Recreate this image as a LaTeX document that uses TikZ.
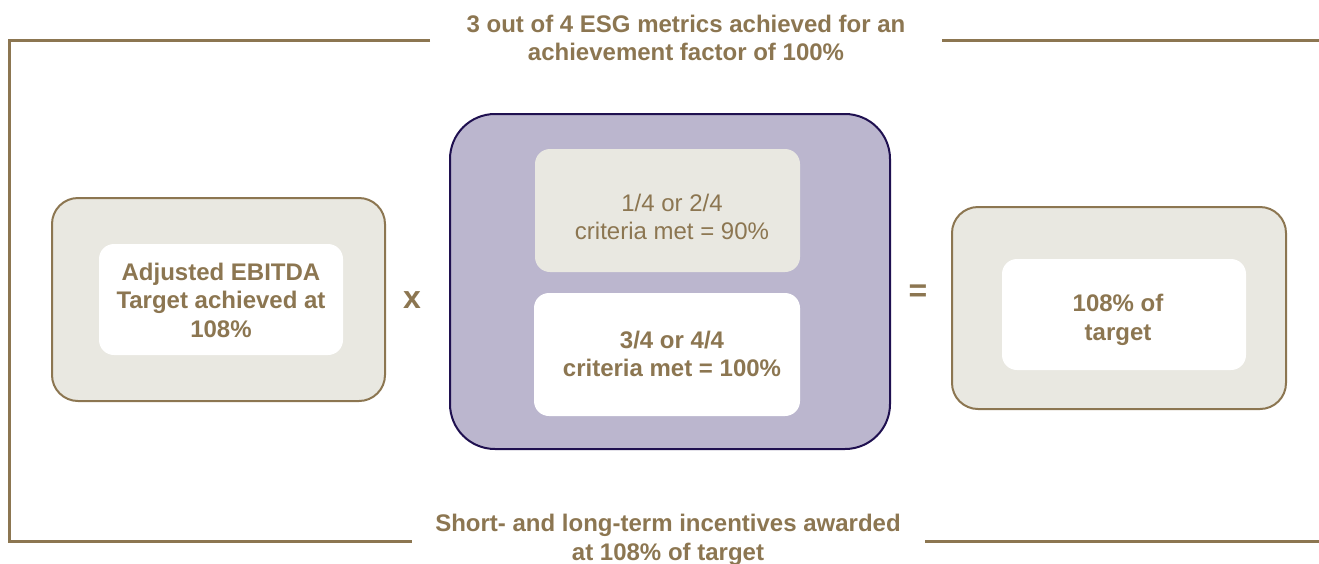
\documentclass[tikz,border=0pt]{standalone}
\usepackage{fontspec}
\setmainfont{Liberation Sans}
\definecolor{gold}{HTML}{8C7651}
\definecolor{stone}{HTML}{E9E8E1}
\definecolor{lilac}{HTML}{BBB6CE}
\definecolor{navy}{HTML}{1F1050}
\tikzset{
  every node/.style={inner sep=0pt, outer sep=0pt, text=gold},
  lbl/.style={align=center, font=\fontsize{24}{28.5}\selectfont\bfseries},
  lblplain/.style={align=center, font=\fontsize{24}{28.5}\selectfont},
  sign/.style={font=\fontsize{32}{32}\selectfont\bfseries},
  outerbox/.style={draw=gold, line width=2pt, fill=stone, rounded corners=26pt},
  innerbox/.style={fill=white, rounded corners=15pt},
  greybox/.style={fill=stone, rounded corners=15pt},
  esgbox/.style={draw=navy, line width=2pt, fill=lilac, rounded corners=45pt},
  bracket/.style={draw=gold, line width=3pt},
}
\begin{document}
\begin{tikzpicture}[x=1pt, y=-1pt]
\useasboundingbox (0,0) rectangle (1319,563);

% bracket lines around the whole calculation
\coordinate (tl) at (9,40);
\coordinate (bl) at (9,541);
\coordinate (tgapL) at (430,40);
\coordinate (tgapR) at (942,40);
\coordinate (tr) at (1319,40);
\coordinate (bgapL) at (412,541);
\coordinate (bgapR) at (925,541);
\coordinate (br) at (1319,541);
\draw[bracket] (tgapL) -- (tl) -- (bl) -- (bgapL);
\draw[bracket] (tgapR) -- (tr);
\draw[bracket] (bgapR) -- (br);

\node[lbl] (toptext) at (686,38) {3 out of 4 ESG metrics achieved for an\\achievement factor of 100\%};
\node[lbl] (bottext) at (668,540) {Short- and long-term incentives awarded\\at 108\% of target};

% left factor
\path[outerbox] (52,198) rectangle (385,401);
\path[innerbox] (99,244) rectangle (343,355);
\node[lbl] (ebitda) at (221,300) {Adjusted EBITDA\\Target achieved at\\108\%};

\node[sign] (times) at (412,300) {x};

% ESG factor
\path[esgbox] (450,114) rectangle (890,449);
\path[greybox] (535,149) rectangle (800,272);
\node[lblplain] (low) at (672,217) {1/4 or 2/4\\criteria met = 90\%};
\path[innerbox] (534,293) rectangle (800,416);
\node[lbl] (high) at (672,354) {3/4 or 4/4\\criteria met = 100\%};

\node[sign] (equals) at (918,293) {=};

% result
\path[outerbox] (952,207) rectangle (1286,409);
\path[innerbox] (1002,259) rectangle (1246,370);
\node[lbl] (result) at (1118,320) {108\% of\\target};
\end{tikzpicture}
\end{document}
